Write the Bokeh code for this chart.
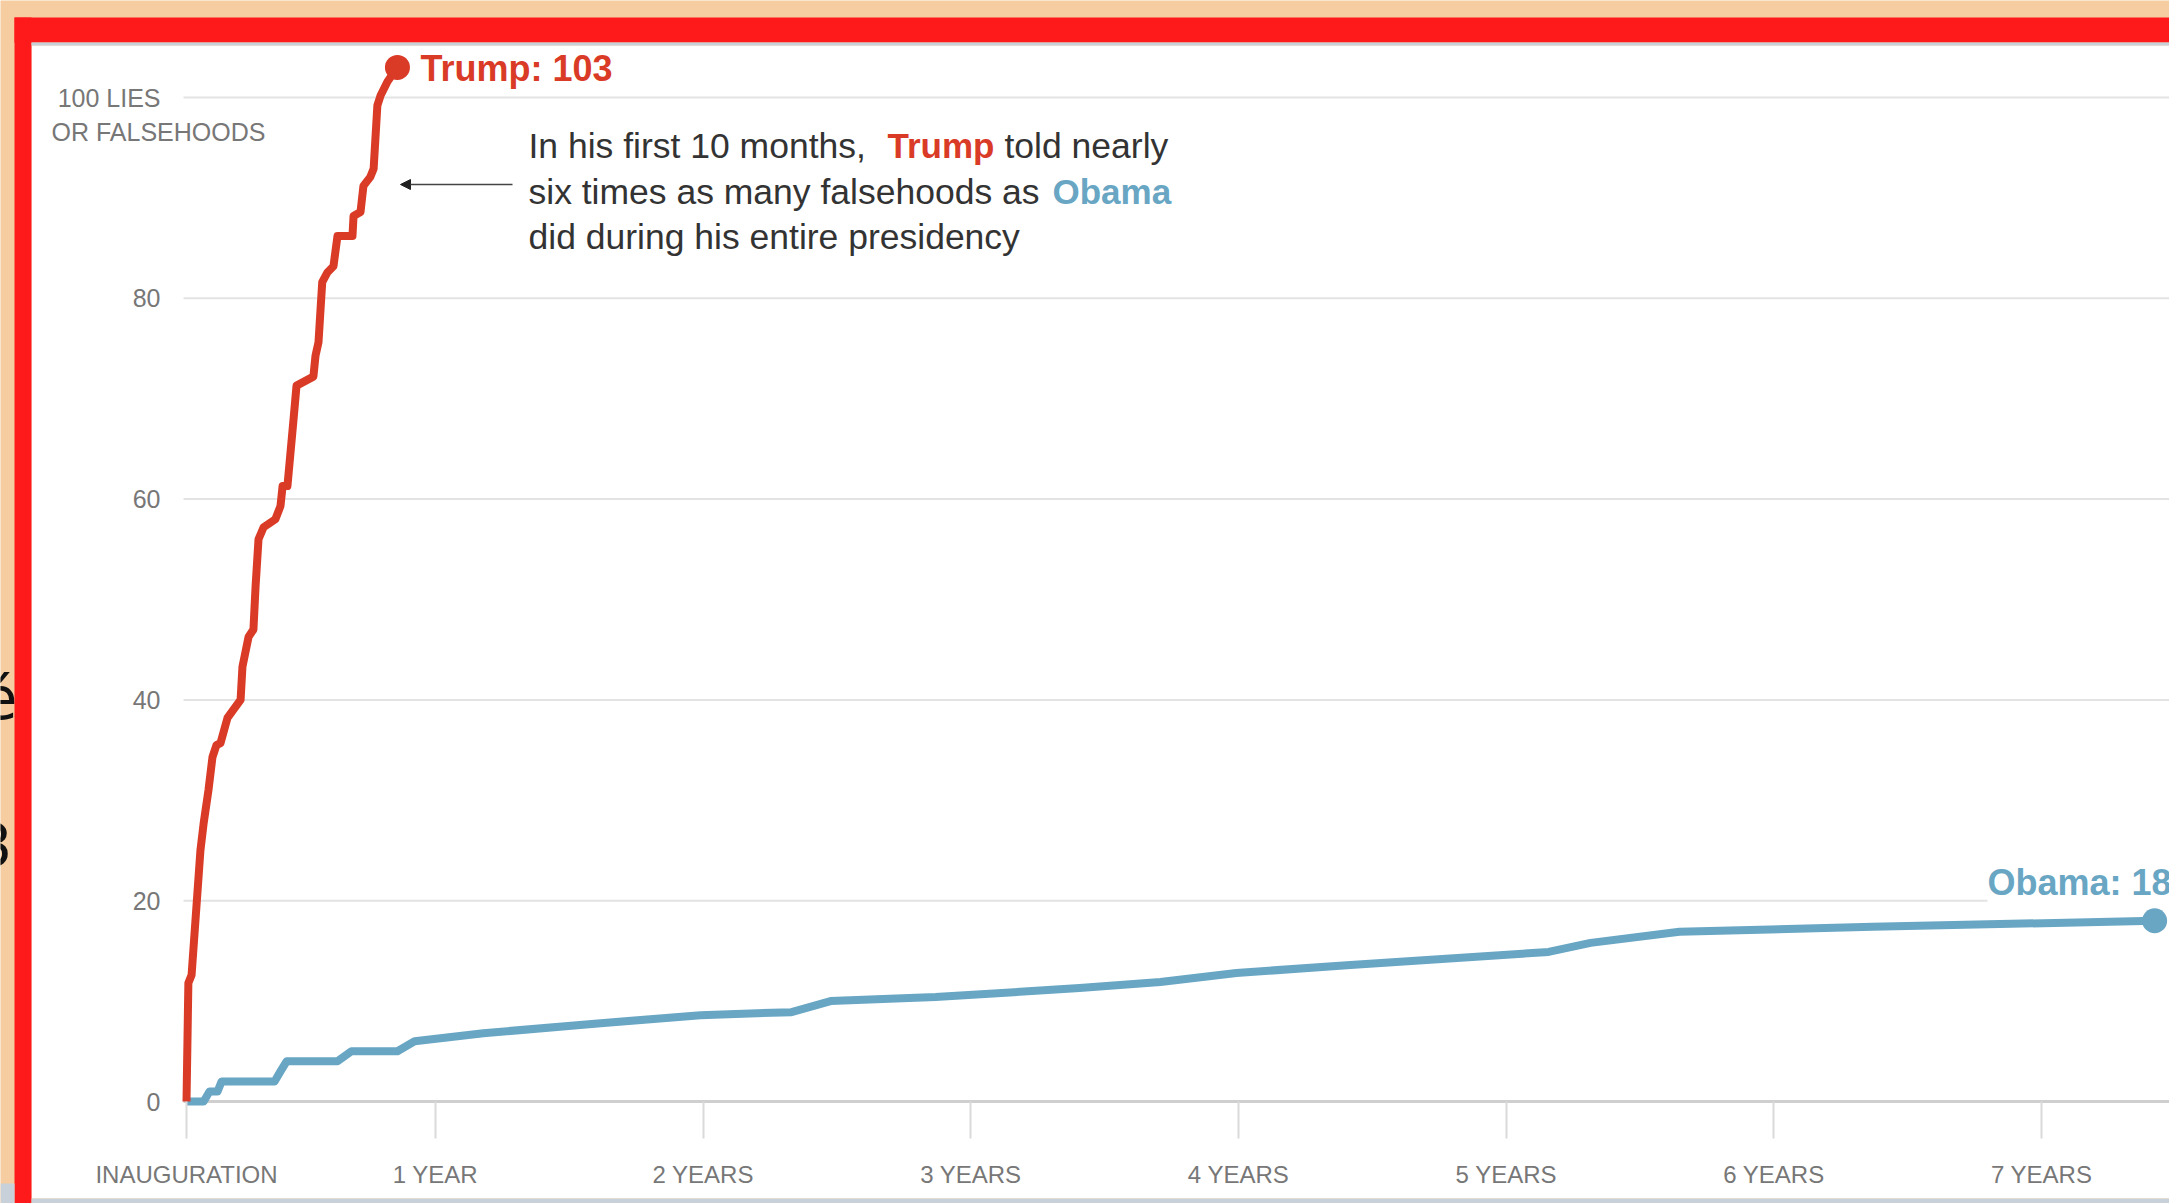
from bokeh.plotting import figure
from bokeh.models import Range1d, LinearAxis, FixedTicker, Arrow, NormalHead, Label
from bokeh.core.properties import value
from bokeh.embed import file_html
from bokeh.resources import INLINE

# ---------------- data ----------------
# years since inauguration, cumulative lies / falsehoods
trump_years = [0.000, 0.007, 0.019, 0.052, 0.064, 0.082, 0.097, 0.112, 0.127, 0.153,
               0.202, 0.209, 0.232, 0.250, 0.258, 0.269, 0.288, 0.332, 0.351, 0.359,
               0.377, 0.400, 0.411, 0.474, 0.482, 0.493, 0.507, 0.527, 0.549, 0.564,
               0.620, 0.624, 0.650, 0.661, 0.687, 0.699, 0.713, 0.725, 0.751, 0.788]
trump_lies = [0, 11.8, 12.6, 25.0, 27.7, 31.0, 34.3, 35.5, 35.7, 38.2,
              40.0, 43.3, 46.3, 47.0, 51.3, 56.0, 57.2, 58.0, 59.3, 61.3,
              61.3, 68.0, 71.3, 72.2, 74.3, 75.6, 81.6, 82.6, 83.2, 86.2,
              86.2, 88.2, 88.6, 91.2, 92.1, 92.9, 99.2, 100.2, 101.6, 103]

obama_years = [0.000, 0.064, 0.086, 0.116, 0.131, 0.329, 0.351, 0.374, 0.564, 0.616,
               0.788, 0.852, 1.109, 1.547, 1.920, 2.260, 2.406, 2.798, 3.336, 3.638,
               3.922, 4.348, 5.088, 5.245, 5.577, 6.298, 7.352]
obama_lies = [0, 0, 1, 1, 2, 2, 3, 4, 4, 5,
              5, 6, 6.8, 7.8, 8.6, 8.9, 10.0, 10.4, 11.3, 11.9,
              12.8, 13.6, 14.9, 15.8, 16.9, 17.4, 18]

y_ticks = [0, 20, 40, 60, 80, 100]
y_tick_labels = ["0", "20", "40", "60", "80", "100 LIES"]
x_ticks = [0, 0.93, 1.93, 2.93, 3.93, 4.93, 5.93, 6.93]
x_tick_labels = ["INAUGURATION", "1 YEAR", "2 YEARS", "3 YEARS", "4 YEARS",
                 "5 YEARS", "6 YEARS", "7 YEARS"]

trump_label = "Trump: 103"
obama_label = "Obama: 18"

# ---------------- layout helpers ----------------
W, H = 2169, 1203
X0_PX, PX_PER_YEAR = 186.0, 267.7
Y0_PX, PX_PER_LIE = 1101.0, 10.04


def px2x(px):
    return (px - X0_PX) / PX_PER_YEAR


def px2y(py):
    return (Y0_PX - py) / PX_PER_LIE


PEACH = "#F6CDA0"
RED_FRAME = "#FE1A1B"
GREY_EDGE = "#C8D0D9"
TRUMP = "#DA3B27"
OBAMA = "#68A6C4"
FONT_NAME = "Liberation Sans"
FONT = value(FONT_NAME)

p = figure(width=W, height=H, title=None,
           x_range=Range1d(px2x(0), px2x(W)), y_range=Range1d(px2y(H), px2y(0)),
           x_axis_type=None, y_axis_type=None,
           toolbar_location=None, tools="", output_backend="svg",
           min_border=0, outline_line_color=None,
           background_fill_color=PEACH, border_fill_color=PEACH)

# fragments of the page behind (left edge)
p.text(x=[px2x(17), px2x(12)], y=[px2y(698), px2y(844)], text=["é", "3"],
       text_font=value("DejaVu Sans"), text_font_size="58px", text_color="#111111",
       text_align="right", text_baseline="alphabetic")

# page frame
def box(l, r, t, b, color):
    p.quad(left=[px2x(l)], right=[px2x(r)], top=[px2y(t)], bottom=[px2y(b)],
           fill_color=color, line_color=None)

box(31, W, 45, 1198, "white")
box(14, W, 17, 42, RED_FRAME)
box(14, 31, 17, H, RED_FRAME)
box(31, W, 42, 45, GREY_EDGE)
box(31, W, 1198, H, GREY_EDGE)
box(0, 14, 1183, H, GREY_EDGE)

# grid lines
grid_y = [t for t in y_ticks if t > 0]
p.segment(x0=[px2x(183)] * len(grid_y), x1=[px2x(W)] * len(grid_y),
          y0=grid_y, y1=grid_y, line_color="#E3E3E3", line_width=2)
p.segment(x0=[px2x(183)], x1=[px2x(W)], y0=[0], y1=[0],
          line_color="#CFCFCF", line_width=3)

# axes
yaxis = LinearAxis(fixed_location=px2x(183), ticker=FixedTicker(ticks=y_ticks),
                   major_label_overrides=dict(zip(y_ticks, y_tick_labels)),
                   axis_line_color=None, major_tick_line_color=None,
                   major_tick_in=0, major_tick_out=0, minor_tick_line_color=None,
                   major_label_standoff=23, major_label_text_font=FONT_NAME,
                   major_label_text_font_size="25px", major_label_text_color="#777777")
p.add_layout(yaxis, "left")

xaxis = LinearAxis(fixed_location=0, ticker=FixedTicker(ticks=x_ticks),
                   major_label_overrides=dict(zip(x_ticks, x_tick_labels)),
                   axis_line_color=None, major_tick_line_color="#DADADA",
                   major_tick_line_width=2, major_tick_in=0, major_tick_out=37,
                   minor_tick_line_color=None, major_label_standoff=22,
                   major_label_text_font=FONT_NAME, major_label_text_font_size="24px",
                   major_label_text_color="#777777")
p.add_layout(xaxis, "below")

p.text(x=[px2x(51)], y=[px2y(131)], text=["OR FALSEHOODS"], text_font=FONT,
       text_font_size="25px", text_color="#777777", text_align="left",
       text_baseline="middle")

# series
p.line(obama_years, obama_lies, line_color=OBAMA, line_width=8, line_join="round")
p.line(trump_years, trump_lies, line_color=TRUMP, line_width=8, line_join="round")
p.scatter([trump_years[-1]], [trump_lies[-1]], size=25, fill_color=TRUMP, line_color=None)
p.scatter([obama_years[-1]], [obama_lies[-1]], size=25, fill_color=OBAMA, line_color=None)

# end labels
p.text(x=[px2x(420)], y=[px2y(68)], text=[trump_label], text_font=FONT,
       text_font_style="bold", text_font_size="36px", text_color=TRUMP,
       text_baseline="middle")
p.add_layout(Label(x=px2x(1987), y=px2y(882), text=obama_label, text_font=FONT_NAME,
                   text_font_style="bold", text_font_size="36px", text_color=OBAMA,
                   text_baseline="middle", background_fill_color="white",
                   background_fill_alpha=1.0))

# annotation
note_kw = dict(text_font=FONT, text_baseline="middle")
line_y = [px2y(145), px2y(191), px2y(236)]
p.text(x=[px2x(528)] * 3, y=line_y,
       text=["In his first 10 months,", "six times as many falsehoods as",
             "did during his entire presidency"], text_color="#333333",
       text_font_size="35.5px", **note_kw)
p.text(x=[px2x(1004)], y=[line_y[0]], text=["told nearly"], text_color="#333333",
       text_font_size="35.5px", **note_kw)
p.text(x=[px2x(887)], y=[line_y[0]], text=["Trump"], text_color=TRUMP,
       text_font_style="bold", text_font_size="35px", **note_kw)
p.text(x=[px2x(1052)], y=[line_y[1]], text=["Obama"], text_color=OBAMA,
       text_font_style="bold", text_font_size="35px", **note_kw)

p.add_layout(Arrow(end=NormalHead(size=10, fill_color="#222222", line_color="#222222"),
                   x_start=px2x(512), y_start=px2y(184), x_end=px2x(400), y_end=px2y(184),
                   line_color="#444444", line_width=1.5))

open("out.html", "w").write(file_html(p, INLINE))
